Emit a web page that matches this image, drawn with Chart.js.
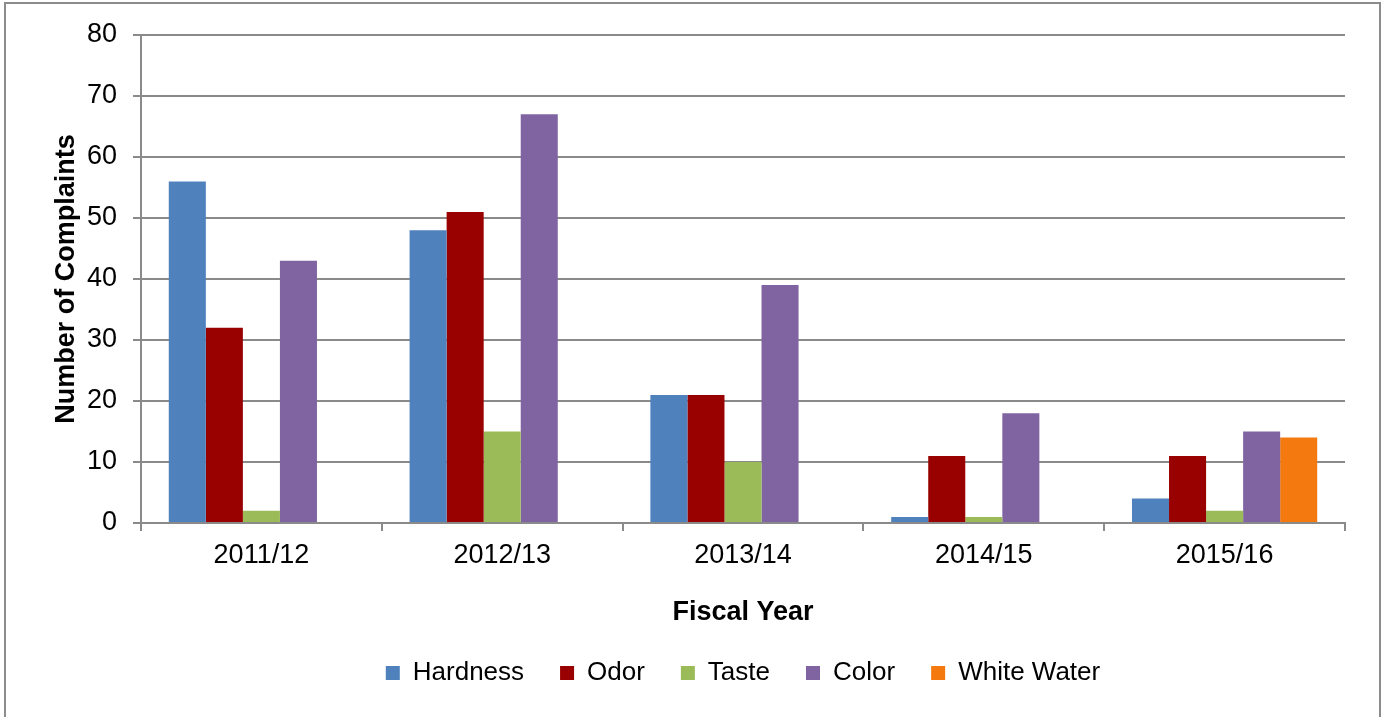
<!DOCTYPE html>
<html>
<head>
<meta charset="utf-8">
<title>Water Quality Complaints by Fiscal Year</title>
<script src="https://cdn.jsdelivr.net/npm/chart.js@4/dist/chart.umd.min.js"></script>
<style>
    html, body { margin: 0; padding: 0; background: #fff; overflow: hidden; }
    #frame {
        position: absolute; left: 4px; top: 2px;
        width: 1373px; height: 730px;
        border: 2px solid #8c8c8c;
    }
    #wrap { position: absolute; left: 0; top: 0; width: 1391px; height: 717px; }
</style>
</head>
<body>
<div id="frame"></div>
<div id="wrap"><canvas id="complaintsChart" width="1391" height="717"></canvas></div>
<script>
// Complaint counts per fiscal year
const fiscalYears = ['2011/12', '2012/13', '2013/14', '2014/15', '2015/16'];
const hardness   = [56, 48, 21, 1, 4];
const odor       = [32, 51, 21, 11, 11];
const taste      = [2, 15, 10, 1, 2];
const color      = [43, 67, 39, 18, 15];
const whiteWater = [0, 0, 0, 0, 14];
const yTicks     = [0, 10, 20, 30, 40, 50, 60, 70, 80];

const FONT = "'Liberation Sans', Arial, Helvetica, sans-serif";
const GRID = '#8a8a8a';

Chart.defaults.font.family = FONT;
Chart.defaults.color = '#000';

const makeSet = (label, data, fill) => ({
    label: label,
    data: data,
    backgroundColor: fill,
    borderWidth: 0,
    barPercentage: 1,
    categoryPercentage: 5 / 6.5
});

const ctx = document.getElementById('complaintsChart').getContext('2d');
new Chart(ctx, {
    type: 'bar',
    data: {
        labels: fiscalYears,
        datasets: [
            makeSet('Hardness', hardness, '#4f81bd'),
            makeSet('Odor', odor, '#990000'),
            makeSet('Taste', taste, '#9bbb59'),
            makeSet('Color', color, '#8064a2'),
            makeSet('White Water', whiteWater, '#f47a10')
        ]
    },
    options: {
        responsive: false,
        animation: false,
        devicePixelRatio: 1,
        layout: { padding: { left: 0, right: 46, top: 35, bottom: 21 } },
        plugins: {
            tooltip: { enabled: false },
            legend: {
                position: 'bottom',
                fullSize: false,
                labels: {
                    boxWidth: 14,
                    boxHeight: 14,
                    padding: 36,
                    color: '#000',
                    font: { size: 26, family: FONT }
                }
            }
        },
        scales: {
            x: {
                afterFit: (scale) => { scale.height = 101; },
                grid: {
                    display: true,
                    drawOnChartArea: false,
                    drawTicks: true,
                    tickLength: 8,
                    color: GRID,
                    lineWidth: 2
                },
                border: { color: GRID, width: 2 },
                ticks: { padding: 8, color: '#000', font: { size: 27 } },
                title: {
                    display: true,
                    text: 'Fiscal Year',
                    color: '#000',
                    font: { size: 27, weight: 'bold', lineHeight: 1 },
                    padding: { top: 0, bottom: -2.5 }
                }
            },
            y: {
                min: 0,
                max: 80,
                afterFit: (scale) => { scale.width = 141; },
                afterBuildTicks: (scale) => { scale.ticks = yTicks.map(v => ({ value: v })); },
                grid: {
                    color: GRID,
                    lineWidth: 2,
                    drawTicks: true,
                    tickLength: 8
                },
                border: { color: GRID, width: 2 },
                ticks: { padding: 16, color: '#000', font: { size: 27 } },
                title: {
                    display: true,
                    text: 'Number of Complaints',
                    color: '#000',
                    font: { size: 27, weight: 'bold' },
                    padding: { top: 50, bottom: 0 }
                }
            }
        }
    }
});
</script>
</body>
</html>
